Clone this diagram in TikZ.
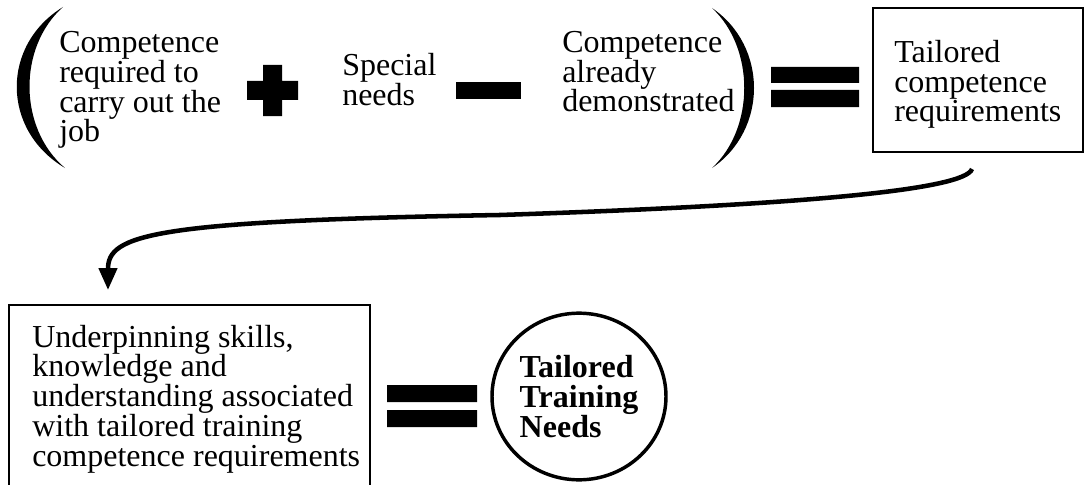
\documentclass[tikz,border=0pt]{standalone}
\usepackage{fontspec}
\setmainfont{Liberation Serif}
\usepackage{tikz}
\usetikzlibrary{arrows.meta, shapes.geometric}

\begin{document}
\begin{tikzpicture}[x=0.75pt, y=-0.75pt,
  word/.style={font=\fontsize{24}{22.3}\selectfont, align=left, inner sep=0pt, anchor=base west},
  frame/.style={draw, line width=1.4pt, inner sep=0pt},
  flow/.style={line width=3.4pt, -{Triangle[length=16.5pt, width=13.5pt]}}]
\useasboundingbox (0,0) rectangle (1085,485);

\fill (63,7) .. controls (1,45) and (1,130) .. (65,168) .. controls (18,128) and (18,47) .. (63,7) -- cycle;
\node (job) [word] at (59,142) {Competence\\required to\\carry out the\\job};
\fill (263,65) rectangle (282,116) (247,81) rectangle (298,100);
\node (special) [word] at (342,105) {Special\\needs};
\fill (456,82) rectangle (521,99);
\node (shown) [word] at (562,112) {Competence\\already\\demonstrated};
\fill (712,8) .. controls (768,46) and (768,130) .. (712,168) .. controls (755,128) and (755,48) .. (712,8) -- cycle;
\fill (771,67) rectangle (859,83) (771,90) rectangle (859,107);
\node (tcr) [frame, minimum width=157.5pt, minimum height=108pt] at (978,80) {};
\node (tcrtext) [word] at (894,122) {Tailored\\competence\\requirements};

\coordinate (from) at (972,169);
\coordinate (to) at (108,290);
\draw[flow] (from) .. controls (965,190) and (800,205) .. (500,215) .. controls (150,221) and (108,235) .. (to);

\node (usk) [frame, minimum width=270.75pt, minimum height=138.75pt] at (189.5,397.5) {};
\node (usktext) [word] at (32,466) {Underpinning skills,\\knowledge and\\understanding associated\\with tailored training\\competence requirements};
\fill (387,385) rectangle (477,402) (387,410) rectangle (477,427);
\node (ttn) [ellipse, draw, line width=2.6pt, minimum width=130.5pt, minimum height=125pt, inner sep=0pt,
  font=\fontsize{24}{22.5}\selectfont\bfseries, align=left] at (579,396.5) {Tailored\\Training\\Needs};
\end{tikzpicture}
\end{document}
